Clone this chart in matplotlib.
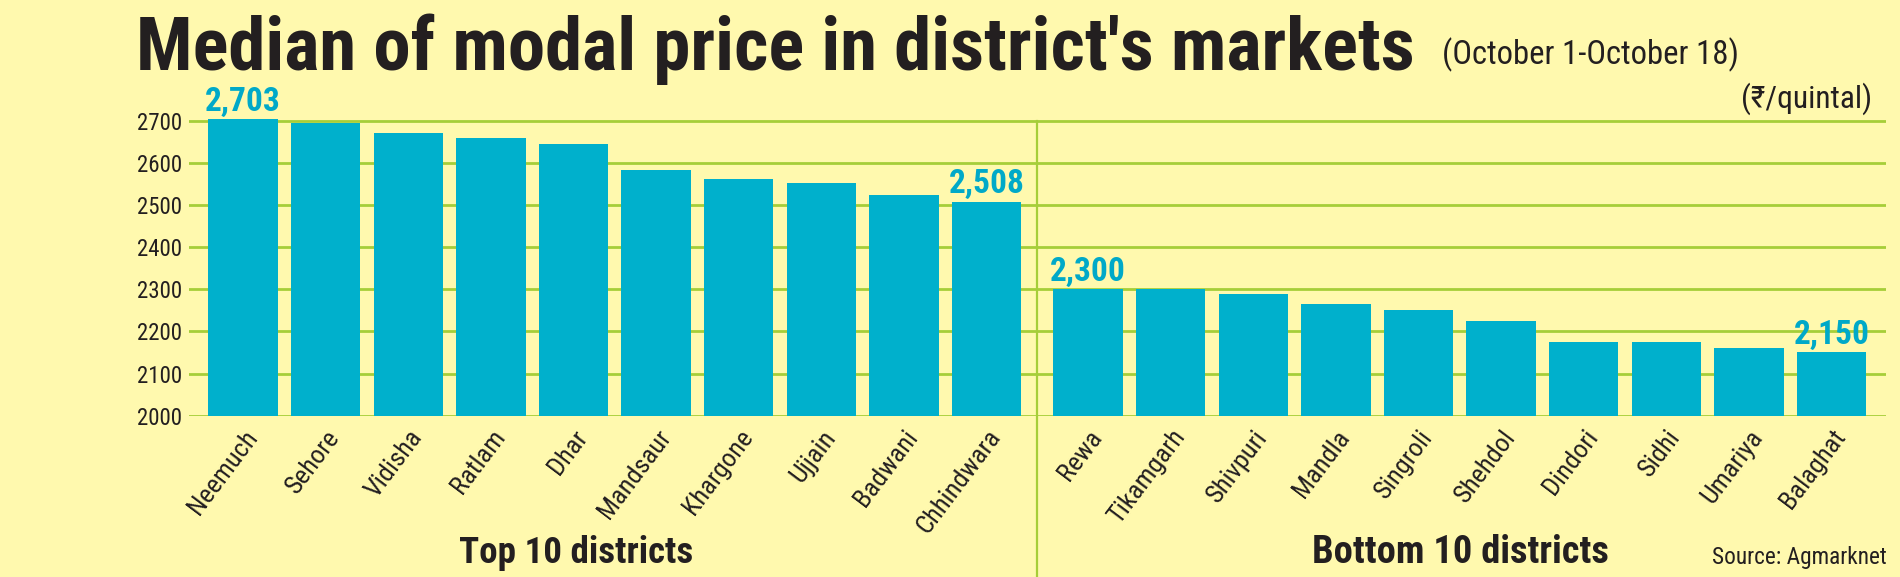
import numpy as np
import matplotlib
matplotlib.use('Agg')
import matplotlib.pyplot as plt
from matplotlib import font_manager

# data (Rs/quintal)
top_names = ['Neemuch', 'Sehore', 'Vidisha', 'Ratlam', 'Dhar',
             'Mandsaur', 'Khargone', 'Ujjain', 'Badwani', 'Chhindwara']
top_prices = [2703, 2695, 2670, 2660, 2645, 2582, 2562, 2552, 2524, 2508]
bottom_names = ['Rewa', 'Tikamgarh', 'Shivpuri', 'Mandla', 'Singroli',
                'Shehdol', 'Dindori', 'Sidhi', 'Umariya', 'Balaghat']
bottom_prices = [2300, 2300, 2288, 2265, 2250, 2225, 2175, 2175, 2160, 2150]
y_ticks = [2000, 2100, 2200, 2300, 2400, 2500, 2600, 2700]
labelled = ['Neemuch', 'Chhindwara', 'Rewa', 'Balaghat']

BG = '#FFF9AE'
BAR = '#00B0CC'
GRID = '#A6CE39'
LABEL = '#00A9C8'
INK = '#231F20'

# pick a narrow font if there is one
installed = {f.name for f in font_manager.fontManager.ttflist}
narrow = 'DejaVu Sans'
for cand in ['Roboto Condensed', 'Liberation Sans Narrow', 'Open Sans Condensed']:
    if cand in installed:
        narrow = cand
        break
FAM = [narrow, 'DejaVu Sans']
plt.rcParams['font.family'] = FAM

fig = plt.figure(figsize=(19, 5.77), dpi=100, facecolor=BG)
ax = fig.add_axes([0.0994, 0.2796, 0.8932, 0.5551], facecolor=BG)

gap = 0.23
x_top = np.arange(len(top_names))
x_bot = np.arange(len(bottom_names)) + len(top_names) + gap
xs = np.concatenate([x_top, x_bot])
names = top_names + bottom_names
prices = top_prices + bottom_prices

ax.bar(xs, np.array(prices) - 2000, bottom=2000, width=0.84, color=BAR, zorder=3)

for x, name, v in zip(xs, names, prices):
    if name in labelled:
        ax.text(x, v + 4, f'{v:,}', ha='center', va='bottom', color=LABEL,
                fontsize=24, fontweight='bold', zorder=4)

ax.set_ylim(2000, 2760)
ax.set_xlim(-0.657, 19.89)
ax.set_yticks(y_ticks)
ax.yaxis.grid(True, color=GRID, lw=2.0, zorder=1)
ax.set_axisbelow(True)
for s in ax.spines.values():
    s.set_visible(False)
ax.tick_params(axis='y', length=0, pad=5, labelsize=16.5, labelcolor=INK)
ax.tick_params(axis='x', length=0, pad=7, labelsize=19, labelcolor=INK)
ax.set_xticks(xs)
ax.set_xticklabels(names, rotation=53, ha='right', rotation_mode='anchor')

# divider between the two groups
div = (x_top[-1] + x_bot[0]) / 2
ax.axvline(div, ymin=-0.52, ymax=700 / 760, color=GRID, lw=1.6, clip_on=False, zorder=2)

renderer = fig.canvas.get_renderer()

def fit(t, width_px):
    # scale font so the text spans the width seen in the reference
    w = t.get_window_extent(renderer).width
    t.set_fontsize(t.get_fontsize() * width_px / w)

W, H = 1900, 577
t = fig.text(136 / W, 1 - 70 / H, "Median of modal price in district's markets",
             fontsize=55, fontweight='bold', color=INK, va='baseline')
fit(t, 1280)
t = fig.text(1442 / W, 1 - 64 / H, '(October 1-October 18)', fontsize=22, color=INK, va='baseline')
fit(t, 297)
t = fig.text(1872 / W, 1 - 108 / H, '(₹/quintal)', fontsize=22, color=INK, va='baseline', ha='right')
fit(t, 131)
t = fig.text(576 / W, 1 - 563 / H, 'Top 10 districts', fontsize=24, fontweight='bold',
             color=INK, va='baseline', ha='center')
fit(t, 235)
t = fig.text(1460 / W, 1 - 563 / H, 'Bottom 10 districts', fontsize=24, fontweight='bold',
             color=INK, va='baseline', ha='center')
fit(t, 298)
t = fig.text(1887 / W, 1 - 564 / H, 'Source: Agmarknet', fontsize=16, color=INK,
             va='baseline', ha='right')
fit(t, 175)

fig.savefig('out.png', dpi=100, facecolor=BG)
